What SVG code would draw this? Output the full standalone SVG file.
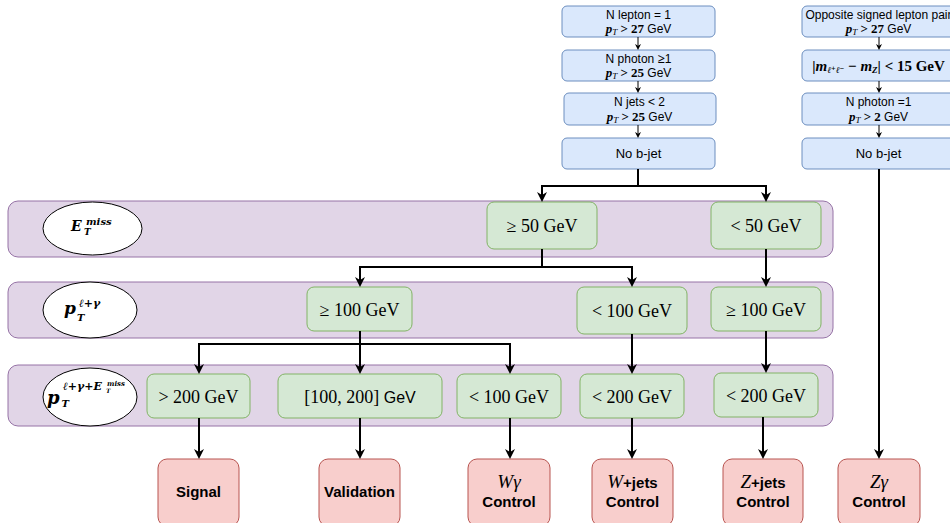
<svg xmlns="http://www.w3.org/2000/svg" width="950" height="523" viewBox="0 0 950 523">
<defs>
<marker id="ah" viewBox="0 0 10 10" refX="3" refY="5" markerWidth="10" markerHeight="10" markerUnits="userSpaceOnUse" orient="auto"><path d="M0,0 L10,5 L0,10 L3,5 z" fill="#000"/></marker>
<marker id="ahs" viewBox="0 0 10 10" refX="3" refY="5" markerWidth="6" markerHeight="6" markerUnits="userSpaceOnUse" orient="auto"><path d="M0,0 L10,5 L0,10 L3,5 z" fill="#000"/></marker>
</defs>
<style>
.blue{fill:#dae8fc;stroke:#6c8ebf;stroke-width:1}
.green{fill:#d5e8d4;stroke:#82b366;stroke-width:1}
.band{fill:#e1d5e7;stroke:#9673a6;stroke-width:1}
.red{fill:#f8cecc;stroke:#b85450;stroke-width:1}
.ell{fill:#fff;stroke:#000;stroke-width:1}
.sans{font-family:"Liberation Sans",Arial,sans-serif}
.serif{font-family:"Liberation Serif","DejaVu Serif",serif}
.mi{font-family:"Liberation Serif","DejaVu Serif",serif;font-style:italic}
.dj{font-family:"DejaVu Serif","Liberation Serif",serif;font-style:italic;font-weight:bold}
.b{font-weight:bold}
.c{stroke:#000;fill:none;stroke-width:2}
.t{stroke:#000;fill:none;stroke-width:1}
text{fill:#000}
.m{text-anchor:middle}
</style>

<!-- bands -->
<g id="band-met"><rect class="band" x="8" y="201" width="825" height="56" rx="10"/><ellipse class="ell" cx="92.5" cy="228.5" rx="49.5" ry="26.5"/>
<text class="dj" font-size="14" x="71" y="231">E</text><text class="dj" font-size="10" x="86" y="225">miss</text><text class="dj" font-size="9" x="84" y="235">T</text></g>
<g id="band-ptlg"><rect class="band" x="8" y="282" width="825" height="56" rx="10"/><ellipse class="ell" cx="90" cy="310" rx="47" ry="28"/>
<text class="dj" font-size="17" x="64" y="314">p</text><text class="dj" font-size="11" x="79" y="307">ℓ+γ</text><text class="dj" font-size="10" x="77" y="321">T</text></g>
<g id="band-ptlgmet"><rect class="band" x="8" y="365" width="825" height="61" rx="10"/><ellipse class="ell" cx="90" cy="397" rx="47" ry="29"/>
<text class="dj" font-size="18" x="47" y="404">p</text><text class="dj" font-size="10" x="61.5" y="407">T</text><text class="dj" font-size="11" x="63" y="390">ℓ+γ+E</text><text class="dj" font-size="7" x="107" y="386">miss</text><text class="dj" font-size="6" x="106" y="393">T</text></g>

<!-- top boxes left -->
<g id="n-lepton"><rect class="blue" x="562" y="6" width="153" height="31" rx="5"/>
<text class="sans m" font-size="12" x="638.5" y="18.5">N lepton = 1</text>
<text class="m" x="638.5" y="32.5"><tspan class="mi b" font-size="13">p</tspan><tspan class="mi" font-size="9" dy="2">T</tspan><tspan class="serif b" font-size="13" dy="-2"> &gt; 27 </tspan><tspan class="sans" font-size="12">GeV</tspan></text></g>
<g id="n-photon"><rect class="blue" x="562" y="50" width="153" height="31" rx="5"/>
<text class="sans m" font-size="12" x="638.5" y="62.5">N photon <tspan class="serif b" font-size="13">≥</tspan>1</text>
<text class="m" x="638.5" y="76.5"><tspan class="mi b" font-size="13">p</tspan><tspan class="mi" font-size="9" dy="2">T</tspan><tspan class="serif b" font-size="13" dy="-2"> &gt; 25 </tspan><tspan class="sans" font-size="12">GeV</tspan></text></g>
<g id="n-jets"><rect class="blue" x="564" y="93" width="152" height="32" rx="5"/>
<text class="sans m" font-size="12" x="639.5" y="106">N jets &lt; 2</text>
<text class="m" x="639.5" y="120.5"><tspan class="mi b" font-size="13">p</tspan><tspan class="mi" font-size="9" dy="2">T</tspan><tspan class="serif b" font-size="13" dy="-2"> &gt; 25 </tspan><tspan class="sans" font-size="12">GeV</tspan></text></g>
<g id="no-bjet-l"><rect class="blue" x="562" y="138" width="153" height="31" rx="5"/>
<text class="sans m" font-size="13" x="638.5" y="158">No b-jet</text></g>

<!-- top boxes right -->
<g id="os-pair"><rect class="blue" x="802" y="6" width="153" height="31" rx="5"/>
<text class="sans m" font-size="12" x="878.5" y="18.5">Opposite signed lepton pair</text>
<text class="m" x="878.5" y="32.5"><tspan class="mi b" font-size="13">p</tspan><tspan class="mi" font-size="9" dy="2">T</tspan><tspan class="serif b" font-size="13" dy="-2"> &gt; 27 </tspan><tspan class="sans" font-size="12">GeV</tspan></text></g>
<g id="mz-window"><rect class="blue" x="802" y="50" width="153" height="31" rx="5"/>
<text class="m serif b" font-size="15" x="878.5" y="70.5">|<tspan class="mi">m</tspan><tspan class="mi" font-size="9" dy="2">ℓ⁺ℓ⁻</tspan><tspan dy="-2"> − </tspan><tspan class="mi">m</tspan><tspan class="mi" font-size="9" dy="2">Z</tspan><tspan dy="-2">| &lt; 15 GeV</tspan></text></g>
<g id="n-photon-r"><rect class="blue" x="802" y="93" width="153" height="32" rx="5"/>
<text class="sans m" font-size="12" x="878.5" y="106">N photon =1</text>
<text class="m" x="878.5" y="120.5"><tspan class="mi b" font-size="13">p</tspan><tspan class="mi" font-size="9" dy="2">T</tspan><tspan class="serif b" font-size="13" dy="-2"> &gt; 2 </tspan><tspan class="sans" font-size="12">GeV</tspan></text></g>
<g id="no-bjet-r"><rect class="blue" x="802" y="138" width="153" height="31" rx="5"/>
<text class="sans m" font-size="13" x="878.5" y="158">No b-jet</text></g>

<!-- green boxes -->
<g id="met-ge50"><rect class="green" x="487" y="202" width="110" height="47" rx="7"/><text class="serif m" font-size="18" x="542" y="231.5">≥ 50 GeV</text></g>
<g id="met-lt50"><rect class="green" x="711" y="202" width="110" height="47" rx="7"/><text class="serif m" font-size="18" x="766" y="231.5">&lt; 50 GeV</text></g>
<g id="ptlg-ge100"><rect class="green" x="307" y="287" width="105" height="44" rx="7"/><text class="serif m" font-size="18" x="359.5" y="315.5">≥ 100 GeV</text></g>
<g id="ptlg-lt100"><rect class="green" x="577" y="287" width="110" height="47" rx="7"/><text class="serif m" font-size="18" x="632" y="316.5">&lt; 100 GeV</text></g>
<g id="ptlg-ge100-r"><rect class="green" x="711" y="287" width="110" height="44" rx="7"/><text class="serif m" font-size="18" x="766" y="315.5">≥ 100 GeV</text></g>
<g id="ptall-gt200"><rect class="green" x="147" y="374" width="103" height="44" rx="7"/><text class="serif m" font-size="18" x="198.5" y="402.5">&gt; 200 GeV</text></g>
<g id="ptall-100-200"><rect class="green" x="278" y="374" width="164" height="44" rx="7"/><text class="m" x="360" y="402.5"><tspan class="serif" font-size="18">[100, 200] </tspan><tspan class="sans" font-size="16">GeV</tspan></text></g>
<g id="ptall-lt100"><rect class="green" x="457" y="374" width="104" height="44" rx="7"/><text class="serif m" font-size="18" x="509" y="402.5">&lt; 100 GeV</text></g>
<g id="ptall-lt200"><rect class="green" x="580" y="374" width="104" height="44" rx="7"/><text class="serif m" font-size="18" x="632" y="402.5">&lt; 200 GeV</text></g>
<g id="ptall-lt200-r"><rect class="green" x="714" y="373" width="104" height="44" rx="7"/><text class="serif m" font-size="18" x="766" y="401.5">&lt; 200 GeV</text></g>

<!-- result boxes -->
<g id="signal"><rect class="red" x="158" y="459" width="81" height="67" rx="9"/><text class="sans b m" font-size="15" x="198.5" y="497">Signal</text></g>
<g id="validation"><rect class="red" x="319" y="459" width="81" height="67" rx="9"/><text class="sans b m" font-size="15" x="359.5" y="497">Validation</text></g>
<g id="wgamma"><rect class="red" x="468" y="459" width="82" height="67" rx="9"/><text class="mi m" font-size="19" x="509" y="488">Wγ</text><text class="sans b m" font-size="15" x="509" y="507">Control</text></g>
<g id="wjets"><rect class="red" x="592" y="459" width="81" height="67" rx="9"/><text class="m" x="632.5" y="488"><tspan class="mi" font-size="19">W</tspan><tspan class="sans b" font-size="15">+jets</tspan></text><text class="sans b m" font-size="15" x="632.5" y="507">Control</text></g>
<g id="zjets"><rect class="red" x="723" y="459" width="80" height="67" rx="9"/><text class="m" x="763" y="488"><tspan class="mi" font-size="19">Z</tspan><tspan class="sans b" font-size="15">+jets</tspan></text><text class="sans b m" font-size="15" x="763" y="507">Control</text></g>
<g id="zgamma"><rect class="red" x="838" y="459" width="82" height="67" rx="9"/><text class="mi m" font-size="19" x="879" y="488">Zγ</text><text class="sans b m" font-size="15" x="879" y="507">Control</text></g>

<!-- connectors -->
<g id="connectors">
<path class="t" d="M638,37 V45.8" marker-end="url(#ahs)"/>
<path class="t" d="M638,81 V88.8" marker-end="url(#ahs)"/>
<path class="t" d="M638,125 V133.8" marker-end="url(#ahs)"/>
<path class="t" d="M879,37 V45.8" marker-end="url(#ahs)"/>
<path class="t" d="M879,81 V88.8" marker-end="url(#ahs)"/>
<path class="t" d="M879,125 V133.8" marker-end="url(#ahs)"/>
<path class="c" d="M638,169 V186 H542 V195" marker-end="url(#ah)"/>
<path class="c" d="M638,186 H766 V195" marker-end="url(#ah)"/>
<path class="c" d="M542,249 V267 H360 V280" marker-end="url(#ah)"/>
<path class="c" d="M542,267 H632 V280" marker-end="url(#ah)"/>
<path class="c" d="M766,249 V280" marker-end="url(#ah)"/>
<path class="c" d="M360,331 V344 H199 V367" marker-end="url(#ah)"/>
<path class="c" d="M360,344 V367" marker-end="url(#ah)"/>
<path class="c" d="M360,344 H510 V367" marker-end="url(#ah)"/>
<path class="c" d="M632,334 V367" marker-end="url(#ah)"/>
<path class="c" d="M766,331 V366" marker-end="url(#ah)"/>
<path class="c" d="M199,418 V452" marker-end="url(#ah)"/>
<path class="c" d="M360,418 V452" marker-end="url(#ah)"/>
<path class="c" d="M510,418 V452" marker-end="url(#ah)"/>
<path class="c" d="M632,418 V452" marker-end="url(#ah)"/>
<path class="c" d="M763,417 V452" marker-end="url(#ah)"/>
<path class="c" d="M879,169 V452" marker-end="url(#ah)"/>
</g>
</svg>
